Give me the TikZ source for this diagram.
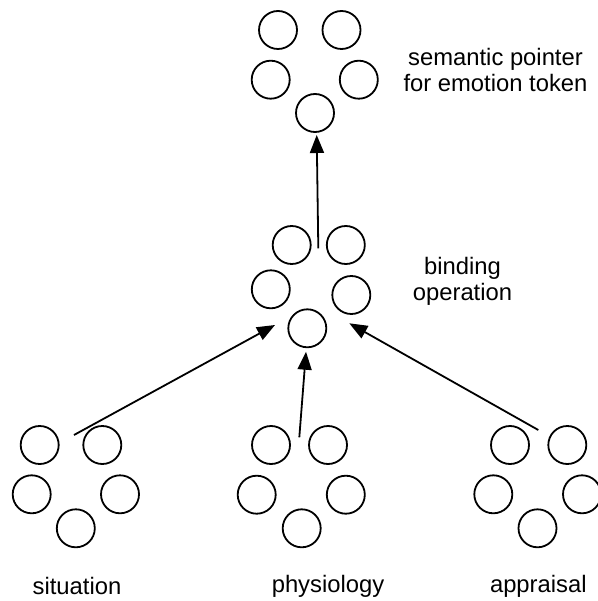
\documentclass[tikz,border=0pt]{standalone}
\usepackage{fontspec}
\setmainfont{Liberation Sans}
\usetikzlibrary{arrows.meta}
\tikzset{
  neuron/.style={circle, draw, line width=1.8pt, minimum size=38pt, inner sep=0pt},
  conn/.style={line width=1.8pt, -{Triangle[length=18pt, width=14pt]}},
  lbl/.style={align=center, font=\fontsize{23.8}{26}\selectfont, inner sep=0pt}
}
\begin{document}
\begin{tikzpicture}[x=1pt, y=-1pt]
\useasboundingbox (0,0) rectangle (597,601);
% top group: semantic pointer
\node[neuron] (t1) at (278,30) {};
\node[neuron] (t2) at (341.5,30) {};
\node[neuron] (t3) at (270.7,79.7) {};
\node[neuron] (t4) at (358.8,79.7) {};
\node[neuron] (t5) at (315,113) {};
% middle group: binding
\node[neuron] (m1) at (291.7,245) {};
\node[neuron] (m2) at (345.8,245) {};
\node[neuron] (m3) at (270.8,289.3) {};
\node[neuron] (m4) at (351.3,295) {};
\node[neuron] (m5) at (307.3,328.3) {};
% situation
\node[neuron] (s1) at (39.7,445) {};
\node[neuron] (s2) at (102.3,445) {};
\node[neuron] (s3) at (31.7,494.3) {};
\node[neuron] (s4) at (120,494.3) {};
\node[neuron] (s5) at (75.8,528.3) {};
% physiology
\node[neuron] (p1) at (271,445) {};
\node[neuron] (p2) at (328,445) {};
\node[neuron] (p3) at (256.7,494.7) {};
\node[neuron] (p4) at (345.8,494.7) {};
\node[neuron] (p5) at (301.7,528.3) {};
% appraisal
\node[neuron] (a1) at (510,445) {};
\node[neuron] (a2) at (567.3,445) {};
\node[neuron] (a3) at (493.3,494.3) {};
\node[neuron] (a4) at (582,494.3) {};
\node[neuron] (a5) at (537.5,528.3) {};
% labels
\node[lbl] (ltop) at (495.5,70) {semantic pointer\\for emotion token};
\node[lbl] (lbind) at (462.5,281) {binding\\operation};
\node[lbl] (lsit) at (77,586) {situation};
\node[lbl] (lphy) at (328,586) {physiology};
\node[lbl] (lapp) at (538.3,586) {appraisal};
% connector end points
\coordinate (sOut) at (74,435);
\coordinate (pOut) at (299.3,437.3);
\coordinate (aOut) at (538.3,430);
\coordinate (mOut) at (318.3,248.3);
\coordinate (mInL) at (275,325);
\coordinate (mInC) at (306,351.7);
\coordinate (mInR) at (349.3,323.3);
\coordinate (tIn) at (316.7,135);
\draw[conn] (sOut) -- (mInL);
\draw[conn] (pOut) -- (mInC);
\draw[conn] (aOut) -- (mInR);
\draw[conn] (mOut) -- (tIn);
\end{tikzpicture}
\end{document}
